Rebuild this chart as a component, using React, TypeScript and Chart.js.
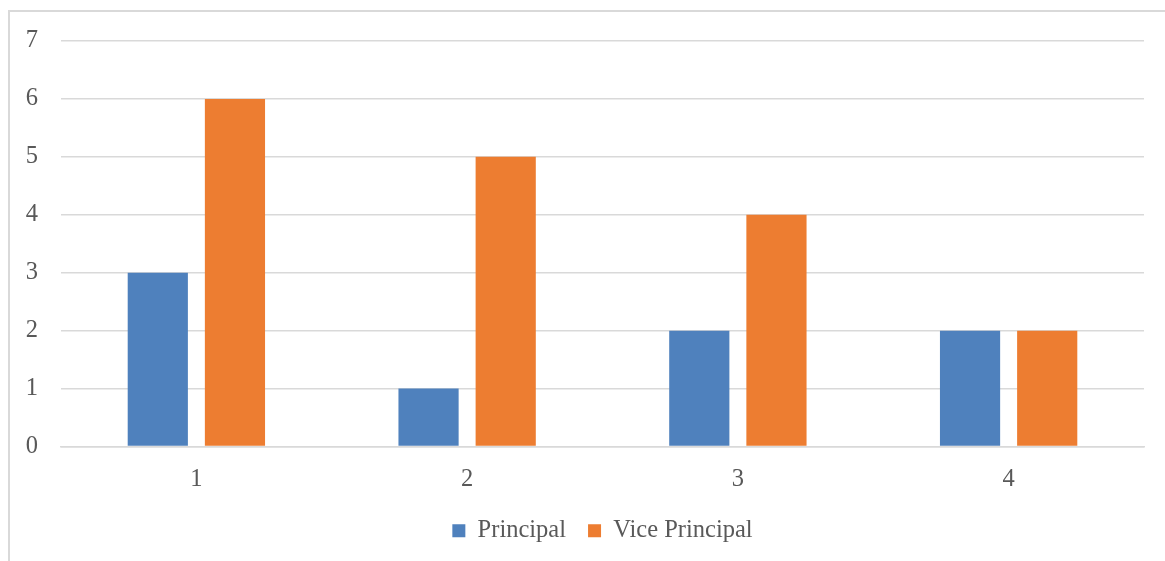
import React, { useEffect, useRef } from "react";
import { Chart, registerables } from "chart.js";

Chart.register(...registerables);

const categories = ["1", "2", "3", "4"];
const principal = [3, 1, 2, 2];
const vicePrincipal = [6, 5, 4, 2];
const yTicks = [0, 1, 2, 3, 4, 5, 6, 7];

const WIDTH = 1165;
const HEIGHT = 561;
const TEXT = "#595959";
const GRID = "#d9d9d9";
const FONT = "'Liberation Serif', 'Times New Roman', serif";
const FONT_SIZE = 24.5;

export default function App() {
  const canvasRef = useRef<HTMLCanvasElement | null>(null);

  useEffect(() => {
    const canvas = canvasRef.current;
    if (!canvas) return;
    const chart = new Chart(canvas, {
      type: "bar",
      data: {
        labels: categories,
        datasets: [
          {
            label: "Principal",
            data: principal,
            backgroundColor: "#4f81bd",
            borderWidth: 0,
            categoryPercentage: 0.57,
            barPercentage: 0.78,
          },
          {
            label: "Vice Principal",
            data: vicePrincipal,
            backgroundColor: "#ed7d31",
            borderWidth: 0,
            categoryPercentage: 0.57,
            barPercentage: 0.78,
          },
        ],
      },
      options: {
        animation: false,
        responsive: false,
        devicePixelRatio: 1,
        layout: { padding: { left: 16, right: 21, top: 41, bottom: 8 } },
        plugins: {
          tooltip: { enabled: false },
          legend: {
            position: "bottom",
            fullSize: false,
            labels: {
              color: TEXT,
              font: { family: FONT, size: FONT_SIZE },
              boxWidth: 13,
              boxHeight: 13,
              padding: 22,
            },
          },
        },
        scales: {
          x: {
            grid: { display: false, drawTicks: false },
            border: { display: true, color: GRID, width: 1.5 },
            ticks: {
              color: TEXT,
              font: { family: FONT, size: FONT_SIZE },
              padding: 18,
              maxRotation: 0,
            },
            afterFit: (axis: any) => {
              axis.height = 50;
            },
          },
          y: {
            min: 0,
            max: yTicks[yTicks.length - 1],
            grid: { color: GRID, lineWidth: 1.5, drawTicks: false },
            border: { display: false },
            ticks: {
              stepSize: 1,
              color: TEXT,
              font: { family: FONT, size: FONT_SIZE },
              padding: 23,
              callback: (v: any) => String(v),
            },
            afterFit: (axis: any) => {
              axis.width = 45;
            },
          },
        },
      },
    });
    return () => chart.destroy();
  }, []);

  return (
    <div
      style={{
        position: "fixed",
        left: 0,
        top: 0,
        width: WIDTH,
        height: HEIGHT,
        overflow: "hidden",
        background: "#ffffff",
      }}
    >
      <div
        style={{
          position: "absolute",
          left: 8,
          top: 10,
          width: WIDTH,
          height: HEIGHT,
          border: `2px solid ${GRID}`,
          boxSizing: "border-box",
        }}
      />
      <canvas
        ref={canvasRef}
        width={WIDTH}
        height={HEIGHT}
        style={{ position: "absolute", left: 0, top: 0, width: WIDTH, height: HEIGHT }}
      />
    </div>
  );
}
